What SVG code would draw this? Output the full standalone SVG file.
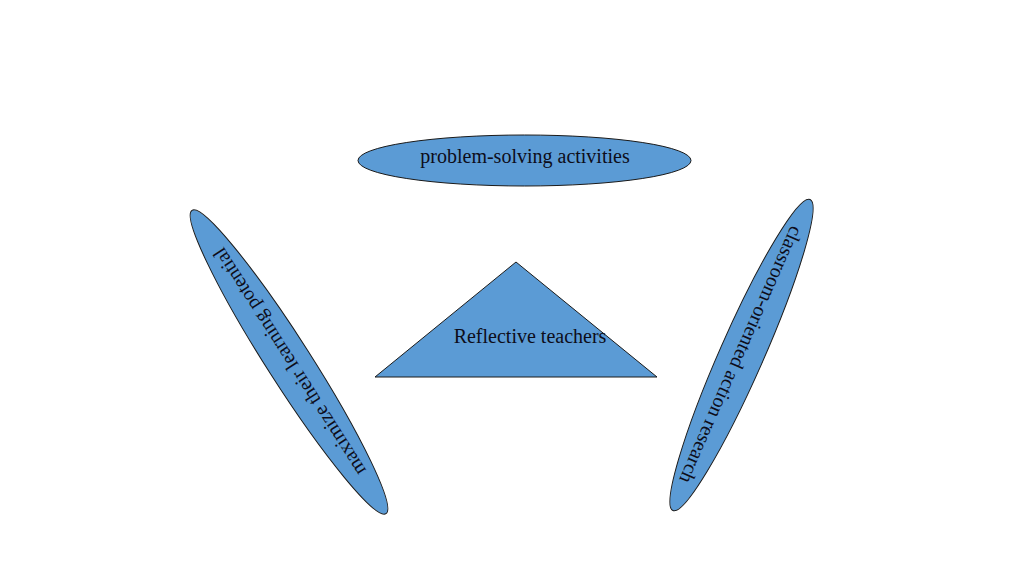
<svg xmlns="http://www.w3.org/2000/svg" width="1024" height="576" viewBox="0 0 1024 576">
<style>
.shape{fill:#5b9bd5;stroke:#1a1a1a;stroke-width:1}
.lbl{font-family:"Liberation Serif","Times New Roman",serif;font-size:20px;fill:#0d0d1a;text-anchor:middle}
</style>
<rect width="1024" height="576" fill="#ffffff"/>
<g id="node-top">
<ellipse class="shape" cx="524.5" cy="160.5" rx="166.5" ry="25.5"/>
<text class="lbl" x="525" y="163">problem-solving activities</text>
</g>
<g id="node-center">
<polygon class="shape" points="516,262 375,377 657,377"/>
<text class="lbl" x="530" y="343">Reflective teachers</text>
</g>
<g id="node-left">
<g transform="translate(289,362) rotate(57.4)">
<ellipse class="shape" cx="0" cy="0" rx="180" ry="22"/>
<text class="lbl" transform="rotate(180)" x="0" y="7">maximize their learning potential</text>
</g>
</g>
<g id="node-right">
<g transform="translate(741.5,355) rotate(113.8)">
<ellipse class="shape" cx="0" cy="0" rx="170" ry="22"/>
<text class="lbl" x="0" y="7">classroom-oriented action research</text>
</g>
</g>
<g id="connectors"/>
</svg>
